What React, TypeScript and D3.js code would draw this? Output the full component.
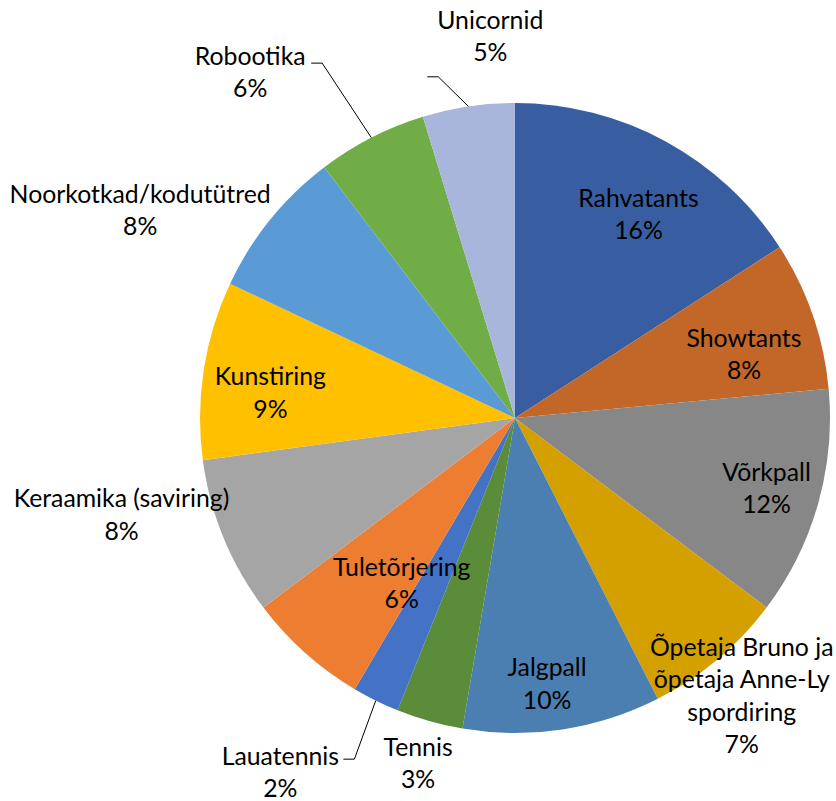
import React from "react";
import * as d3 from "d3";

const categories = [
  "Rahvatants",
  "Showtants",
  "Võrkpall",
  "Õpetaja Bruno ja õpetaja Anne-Ly spordiring",
  "Jalgpall",
  "Tennis",
  "Lauatennis",
  "Tuletõrjering",
  "Keraamika (saviring)",
  "Kunstiring",
  "Noorkotkad/kodutütred",
  "Robootika",
  "Unicornid",
];
const values = [15.8, 7.6, 11.7, 7.2, 10.1, 3.4, 2.4, 6.2, 8.1, 9.1, 7.6, 5.6, 4.7];
const labelLines = [
  ["Rahvatants"],
  ["Showtants"],
  ["Võrkpall"],
  ["Õpetaja Bruno ja", "õpetaja Anne-Ly", "spordiring"],
  ["Jalgpall"],
  ["Tennis"],
  ["Lauatennis"],
  ["Tuletõrjering"],
  ["Keraamika (saviring)"],
  ["Kunstiring"],
  ["Noorkotkad/kodutütred"],
  ["Robootika"],
  ["Unicornid"],
];
const colors = [
  "#385EA1", "#C36729", "#878787", "#D3A000", "#4B7FB1", "#5A8C3A",
  "#4472C4", "#ED7D31", "#A5A5A5", "#FFC000", "#5B9BD5", "#70AD47", "#A9B6DB",
];
// label placement: [angle (deg, clockwise from top), radius px]
const labelAngle = [31.1, 74.2, 105.5, 140.7, 173.1, 195.7, 213.6, 214.5, 256.3, 276.1, 299.1, 322.6, 356.3];
const labelRadius = [239, 238, 261, 358, 267, 358, 424, 200, 405, 246, 429, 436, 383];
// leader lines: label-side end offset from label centre, elbow direction
const leaders: Record<number, { ex: number; ey: number; dir: number }> = {
  6: { ex: 63, ey: -12, dir: 1 },
  11: { ex: 61, ey: -8.5, dir: 1 },
  12: { ex: -63, ey: 41, dir: 1 },
};

const W = 836;
const H = 801;
const cx = 515;
const cy = 418;
const R = 315;
const lineH = 32.3;
const fontSize = 24.8;

export default function App() {
  const total = d3.sum(values);
  const pie = d3.pie<number>().sort(null).value((d) => d)(values);
  const arc = d3.arc<d3.PieArcDatum<number>>().innerRadius(0).outerRadius(R);
  const toRad = (deg: number) => (deg * Math.PI) / 180;

  return (
    <svg
      width={W}
      height={H}
      style={{ position: "absolute", left: 0, top: 0, background: "#fff" }}
      fontFamily="Lato, 'Open Sans', sans-serif"
      fontSize={fontSize}
    >
      <g transform={`translate(${cx},${cy})`}>
        {pie.map((p, i) => (
          <path key={i} d={arc(p) || ""} fill={colors[i]} />
        ))}
      </g>
      {pie.map((p, i) => {
        const a = toRad(labelAngle[i]);
        const lx = cx + labelRadius[i] * Math.sin(a);
        const ly = cy - labelRadius[i] * Math.cos(a);
        const lines = [...labelLines[i], `${Math.round((values[i] / total) * 100)}%`];
        const top = ly - ((lines.length - 1) * lineH) / 2;
        const lead = leaders[i];
        let leader = null;
        if (lead) {
          const mid = (p.startAngle + p.endAngle) / 2;
          const px = cx + R * Math.sin(mid);
          const py = cy - R * Math.cos(mid);
          const ex = lx + lead.ex;
          const ey = ly + lead.ey;
          const elx = ex + 11 * lead.dir;
          leader = (
            <polyline
              points={`${ex},${ey} ${elx},${ey} ${px},${py}`}
              fill="none"
              stroke="#000"
              strokeWidth={1}
            />
          );
        }
        return (
          <g key={`l${i}`}>
            {leader}
            <text textAnchor="middle" fill="#000">
              {lines.map((t, j) => (
                <tspan key={j} x={lx} y={top + j * lineH} dominantBaseline="central">
                  {t}
                </tspan>
              ))}
            </text>
          </g>
        );
      })}
    </svg>
  );
}
